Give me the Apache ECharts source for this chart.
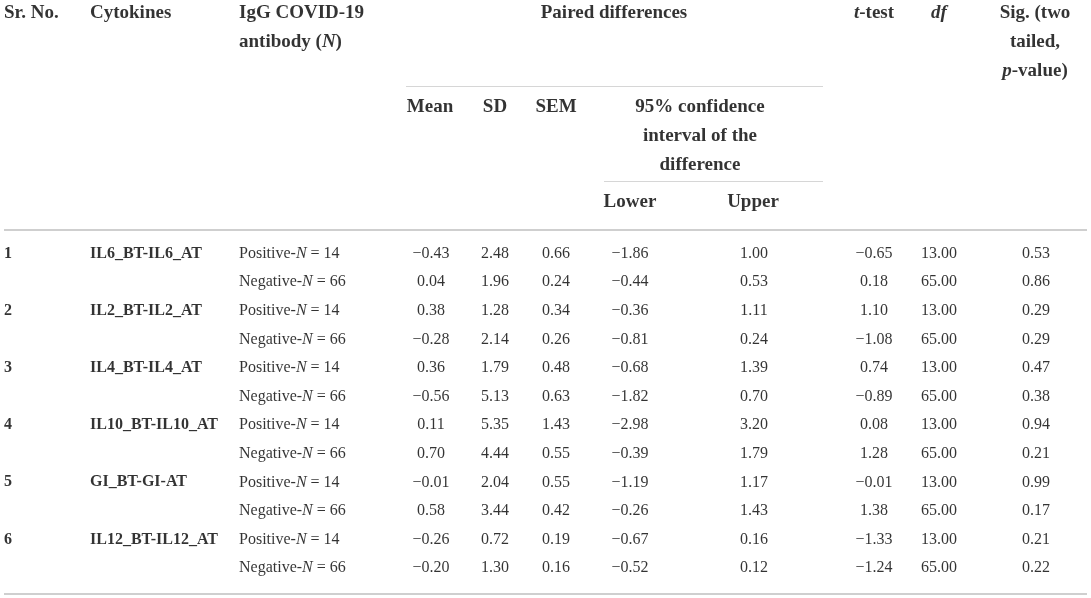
<!DOCTYPE html>
<html>
<head>
<meta charset="utf-8">
<script src="https://cdn.jsdelivr.net/npm/echarts@6/dist/echarts.min.js"></script>
<style>
  html, body { margin: 0; padding: 0; background: #fff; }
  #main { width: 1091px; height: 598px; }
</style>
</head>
<body>
<div id="main"></div>
<script>
// table values
var srNo = ['1', '2', '3', '4', '5', '6'];
var cytokines = ['IL6_BT-IL6_AT', 'IL2_BT-IL2_AT', 'IL4_BT-IL4_AT', 'IL10_BT-IL10_AT', 'GI_BT-GI-AT', 'IL12_BT-IL12_AT'];
var groups = ['Positive-{i|N} = 14', 'Negative-{i|N} = 66'];
var mean = [-0.43, 0.04, 0.38, -0.28, 0.36, -0.56, 0.11, 0.70, -0.01, 0.58, -0.26, -0.20];
var sd = [2.48, 1.96, 1.28, 2.14, 1.79, 5.13, 5.35, 4.44, 2.04, 3.44, 0.72, 1.30];
var sem = [0.66, 0.24, 0.34, 0.26, 0.48, 0.63, 1.43, 0.55, 0.55, 0.42, 0.19, 0.16];
var lower = [-1.86, -0.44, -0.36, -0.81, -0.68, -1.82, -2.98, -0.39, -1.19, -0.26, -0.67, -0.52];
var upper = [1.00, 0.53, 1.11, 0.24, 1.39, 0.70, 3.20, 1.79, 1.17, 1.43, 0.16, 0.12];
var tTest = [-0.65, 0.18, 1.10, -1.08, 0.74, -0.89, 0.08, 1.28, -0.01, 1.38, -1.33, -1.24];
var dfs = [13, 65, 13, 65, 13, 65, 13, 65, 13, 65, 13, 65];
var sig = [0.53, 0.86, 0.29, 0.29, 0.47, 0.38, 0.94, 0.21, 0.99, 0.17, 0.21, 0.22];

// header texts (each entry is one line)
var headTop = [
    ['Sr. No.'], ['Cytokines'], ['IgG COVID-19', 'antibody ({bi|N})'],
    ['Paired differences'], ['{bi|t}-test'], ['{bi|df}'], ['Sig. (two', 'tailed,', '{bi|p}-value)']
];
var headMid = [['Mean'], ['SD'], ['SEM'], ['95% confidence', 'interval of the', 'difference']];
var headLow = ['Lower', 'Upper'];

// layout
var W = 1091, H = 598;
var FONT = 'Liberation Serif';
var HEAD_SIZE = 19, BODY_SIZE = 16;
var topX = [4, 90, 239, 614, 874, 939, 1035];
var topAlign = ['left', 'left', 'left', 'center', 'center', 'center', 'center'];
var midX = [430, 495, 556, 700];
var lowX = [630, 753];
var colX = { sr: 4, cyt: 90, grp: 239, mean: 431, sd: 495, sem: 556, lower: 630, upper: 754, t: 874, df: 939, sig: 1036 };
var lineH = 29;
var head1Y = 13, head2Y = 107, head3Y = 202;
var rowY0 = 253.5, rowStep = 28.6;

function fmt(v) {
    return (v < 0 ? '\u2212' : '') + Math.abs(v).toFixed(2);
}
function rowY(i) {
    return rowY0 + i * rowStep;
}

var rich = {
    i: { fontFamily: FONT, fontSize: BODY_SIZE, fontStyle: 'italic', color: '#000' },
    bi: { fontFamily: FONT, fontSize: HEAD_SIZE, fontStyle: 'italic', fontWeight: 'bold', color: '#000' }
};

function textSeries(items, align, size, weight) {
    return {
        type: 'scatter',
        symbolSize: 0,
        silent: true,
        animation: false,
        data: items,
        label: {
            show: true,
            position: 'inside',
            align: align,
            verticalAlign: 'middle',
            fontFamily: FONT,
            fontSize: size,
            fontWeight: weight,
            color: '#000',
            rich: rich,
            formatter: function (p) { return p.name; }
        }
    };
}

var series = [];

// header cells
function pushHead(lines, x, y, align) {
    var items = lines.map(function (t, k) { return { name: t, value: [x, y + k * lineH] }; });
    series.push(textSeries(items, align, HEAD_SIZE, 'bold'));
}
headTop.forEach(function (lines, c) { pushHead(lines, topX[c], head1Y, topAlign[c]); });
headMid.forEach(function (lines, c) { pushHead(lines, midX[c], head2Y, 'center'); });
headLow.forEach(function (t, c) { pushHead([t], lowX[c], head3Y, 'center'); });

// body cells
var srItems = srNo.map(function (t, k) { return { name: t, value: [colX.sr, rowY(k * 2)] }; });
var cytItems = cytokines.map(function (t, k) { return { name: t, value: [colX.cyt, rowY(k * 2)] }; });
series.push(textSeries(srItems, 'left', BODY_SIZE, 'bold'));
series.push(textSeries(cytItems, 'left', BODY_SIZE, 'bold'));

var grpItems = mean.map(function (v, i) { return { name: groups[i % 2], value: [colX.grp, rowY(i)] }; });
series.push(textSeries(grpItems, 'left', BODY_SIZE, 'normal'));

[[mean, colX.mean], [sd, colX.sd], [sem, colX.sem], [lower, colX.lower], [upper, colX.upper],
 [tTest, colX.t], [dfs, colX.df], [sig, colX.sig]].forEach(function (col) {
    var items = col[0].map(function (v, i) { return { name: fmt(v), value: [col[1], rowY(i)] }; });
    series.push(textSeries(items, 'center', BODY_SIZE, 'normal'));
});

// table rules
series.push({
    type: 'scatter',
    data: [],
    silent: true,
    markLine: {
        silent: true,
        symbol: 'none',
        animation: false,
        label: { show: false },
        data: [
            [{ coord: [406, 86.5], lineStyle: { color: '#d6d6d6', width: 1, type: 'solid' } }, { coord: [823, 86.5] }],
            [{ coord: [604, 181.5], lineStyle: { color: '#d6d6d6', width: 1, type: 'solid' } }, { coord: [823, 181.5] }],
            [{ coord: [4, 229.5], lineStyle: { color: '#cfcfcf', width: 2, type: 'solid' } }, { coord: [1087, 229.5] }],
            [{ coord: [4, 593.5], lineStyle: { color: '#cfcfcf', width: 2, type: 'solid' } }, { coord: [1087, 593.5] }]
        ]
    }
});

var chart = echarts.init(document.getElementById('main'), null, { renderer: 'canvas' });
chart.setOption({
    animation: false,
    backgroundColor: '#fff',
    grid: { left: 0, right: 0, top: 0, bottom: 0 },
    xAxis: { type: 'value', min: 0, max: W, show: false },
    yAxis: { type: 'value', min: 0, max: H, inverse: true, show: false },
    series: series
});
</script>
</body>
</html>
